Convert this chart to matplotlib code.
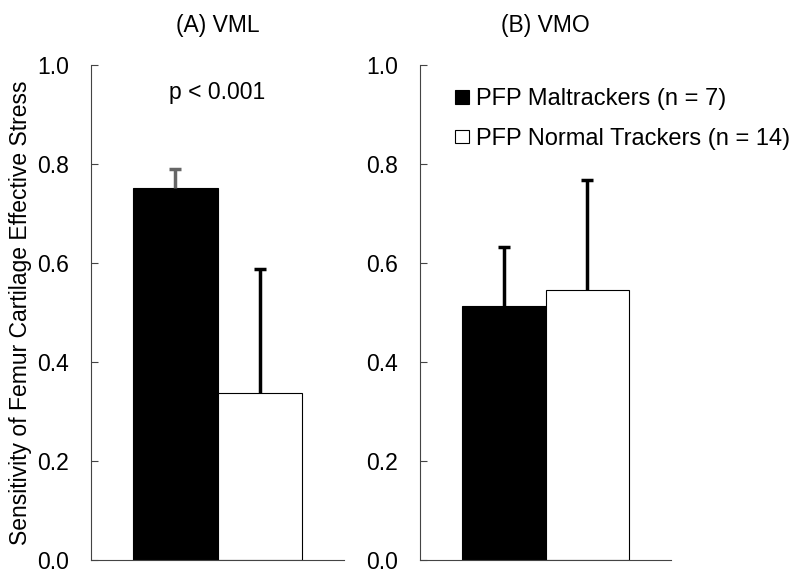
import matplotlib
matplotlib.use("Agg")
import matplotlib.pyplot as plt

plt.rcParams['font.family'] = ['Liberation Sans', 'DejaVu Sans']

# valores
grupos = ["PFP Maltrackers (n = 7)", "PFP Normal Trackers (n = 14)"]
vml_media = [0.751, 0.337]
vml_dp = [0.038, 0.250]
vmo_media = [0.513, 0.546]
vmo_dp = [0.119, 0.222]
titulos = ["(A) VML", "(B) VMO"]
yticks = [0.0, 0.2, 0.4, 0.6, 0.8, 1.0]

fig = plt.figure(figsize=(8, 5.76), dpi=100)
ax1 = fig.add_axes([0.114, 0.028, 0.316, 0.859])
ax2 = fig.add_axes([0.525, 0.028, 0.314, 0.859])

cores = ["black", "white"]
cor_erro = [["#666666", "black"], ["black", "black"]]

for k, (ax, media, dp) in enumerate([(ax1, vml_media, vml_dp), (ax2, vmo_media, vmo_dp)]):
    for i in range(2):
        ax.bar(i, media[i], width=1.0, color=cores[i], edgecolor="black",
               linewidth=0.8, label=grupos[i], zorder=2)
        eb = ax.errorbar(i, media[i], yerr=[[0], [dp[i]]], fmt="none",
                         ecolor=cor_erro[k][i], elinewidth=2.5, capsize=4,
                         capthick=2.5, zorder=3)
        # so a barra de erro de cima, sem o cap de baixo
        eb[1][0].set_visible(False)
    ax.set_xlim(-1.0, 2.0)
    ax.set_ylim(0, 1.0)
    ax.set_yticks(yticks)
    ax.set_yticklabels(["%.1f" % t for t in yticks], fontsize=16.5)
    ax.tick_params(axis="y", direction="in", length=5, width=0.8,
                   colors="#444444", labelcolor="black", pad=16)
    ax.set_xticks([])
    ax.spines["top"].set_visible(False)
    ax.spines["right"].set_visible(False)
    ax.spines["left"].set_color("#444444")
    ax.spines["bottom"].set_color("#444444")

ax1.set_title(titulos[0], fontsize=16.5, y=1.05)
ax2.set_title(titulos[1], fontsize=16.5, y=1.05)
ax1.set_ylabel("Sensitivity of Femur Cartilage Effective Stress", fontsize=16.5,
               labelpad=4)
ax1.text(0.5, 0.945, "p < 0.001", fontsize=16.5, ha="center", va="center",
         transform=ax1.transAxes)

ax2.legend(loc="upper left", bbox_to_anchor=(0.10, 0.972), frameon=False,
           fontsize=17, handlelength=0.62, handleheight=0.5, handletextpad=0.3,
           labelspacing=0.75, borderaxespad=0)

fig.savefig("out.png", dpi=100)
